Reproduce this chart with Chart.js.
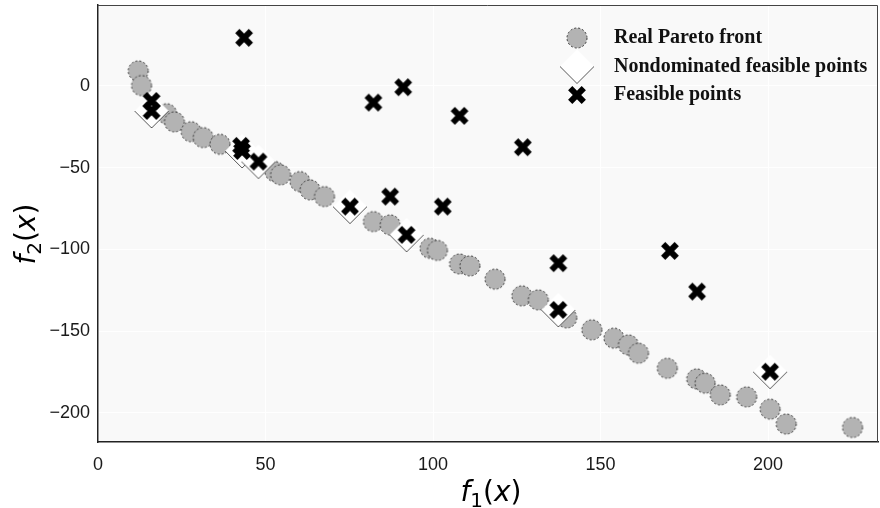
<!DOCTYPE html>
<html>
<head>
<meta charset="utf-8">
<script src="https://cdn.jsdelivr.net/npm/chart.js@4"></script>
<style>
  html, body { margin: 0; padding: 0; background: #fff; }
</style>
</head>
<body>
<canvas id="paretoChart" width="880" height="508"></canvas>
<script>
// real Pareto front (grey circles)
const frontX = [12.0, 13.0, 20.5, 22.8, 27.8, 31.4, 36.4, 52.8, 54.5, 60.3, 63.3, 67.6, 82.2, 87.2, 99.1, 101.3, 107.9, 111.0, 118.5, 126.5, 131.4, 139.9, 147.4, 154.0, 158.3, 161.3, 169.9, 178.7, 181.2, 185.7, 193.6, 200.6, 205.4, 225.2];
const frontY = [9.2, 0.2, -17.0, -22.0, -28.0, -31.6, -35.7, -52.4, -54.4, -58.5, -63.6, -67.7, -83.0, -85.0, -99.3, -100.6, -108.9, -110.1, -118.2, -128.4, -130.9, -141.9, -149.2, -154.3, -158.4, -163.5, -172.7, -179.2, -181.8, -189.0, -190.2, -197.7, -206.8, -208.9];

// nondominated feasible points (white diamonds)
const ndX = [16.0, 43.0, 47.9, 75.2, 92.1, 137.4, 200.6];
const ndY = [-15.3, -39.8, -46.3, -73.8, -91.1, -137.0, -174.8];

// all feasible points (black crosses)
const feasX = [43.6, 16.0, 16.0, 42.7, 43.0, 47.9, 75.2, 82.2, 91.1, 87.2, 92.1, 102.9, 107.9, 126.8, 137.4, 137.4, 170.7, 178.8, 200.6];
const feasY = [29.4, -9.2, -15.3, -36.7, -39.8, -46.3, -73.8, -10.2, -0.8, -67.7, -91.1, -73.8, -18.3, -37.5, -108.4, -137.0, -100.9, -125.8, -174.8];

const xTicks = [0, 50, 100, 150, 200];
const yTicks = [0, -50, -100, -150, -200];
const legendLabels = ["Real Pareto front", "Nondominated feasible points", "Feasible points"];

function toPoints(xs, ys) {
  return xs.map((x, i) => ({ x: x, y: ys[i] }));
}

// marker images
function makeCircle() {
  const c = document.createElement('canvas');
  c.width = 24; c.height = 24;
  const ctx = c.getContext('2d');
  ctx.beginPath();
  ctx.arc(12, 12, 10, 0, Math.PI * 2);
  ctx.fillStyle = '#b3b3b3';
  ctx.fill();
  ctx.setLineDash([2, 2]);
  ctx.strokeStyle = '#333';
  ctx.lineWidth = 1;
  ctx.stroke();
  return c;
}

function makeDiamond() {
  const c = document.createElement('canvas');
  c.width = 38; c.height = 38;
  const ctx = c.getContext('2d');
  ctx.beginPath();
  ctx.moveTo(19, 2); ctx.lineTo(36, 19); ctx.lineTo(19, 36); ctx.lineTo(2, 19);
  ctx.closePath();
  ctx.fillStyle = '#fff';
  ctx.fill();
  ctx.beginPath();
  ctx.moveTo(2, 19); ctx.lineTo(19, 36); ctx.lineTo(36, 19);
  ctx.strokeStyle = '#444';
  ctx.lineWidth = 0.9;
  ctx.stroke();
  return c;
}

function makeCross() {
  const c = document.createElement('canvas');
  c.width = 20; c.height = 20;
  const ctx = c.getContext('2d');
  ctx.strokeStyle = '#000';
  ctx.lineWidth = 6;
  ctx.beginPath();
  ctx.moveTo(3.2, 3.2); ctx.lineTo(16.8, 16.8);
  ctx.moveTo(16.8, 3.2); ctx.lineTo(3.2, 16.8);
  ctx.stroke();
  return c;
}

const circleImg = makeCircle();
const diamondImg = makeDiamond();
const crossImg = makeCross();

// f_n(x) label with italic f and x, subscript n
function drawMathLabel(ctx, sub, size) {
  const parts = [
    { t: 'f', font: 'italic ' + size + 'px "DejaVu Sans"', dy: 0 },
    { t: sub, font: Math.round(size * 0.7) + 'px "DejaVu Sans"', dy: size * 0.22 },
    { t: '(', font: size + 'px "DejaVu Sans"', dy: 0 },
    { t: 'x', font: 'italic ' + size + 'px "DejaVu Sans"', dy: 0 },
    { t: ')', font: size + 'px "DejaVu Sans"', dy: 0 }
  ];
  let total = 0;
  parts.forEach(p => { ctx.font = p.font; p.w = ctx.measureText(p.t).width; total += p.w; });
  let x = -total / 2;
  ctx.fillStyle = '#000';
  ctx.textBaseline = 'alphabetic';
  ctx.textAlign = 'left';
  parts.forEach(p => { ctx.font = p.font; ctx.fillText(p.t, x, p.dy); x += p.w; });
}

const decorPlugin = {
  id: 'decor',
  beforeDraw(chart) {
    const { ctx, chartArea: a } = chart;
    ctx.save();
    ctx.fillStyle = '#fff';
    ctx.fillRect(0, 0, chart.width, chart.height);
    ctx.fillStyle = '#f9f9f9';
    ctx.fillRect(a.left, a.top, a.right - a.left, a.bottom - a.top);
    ctx.restore();
  },
  afterDraw(chart) {
    const { ctx, chartArea: a } = chart;
    ctx.save();
    ctx.strokeStyle = '#444';
    ctx.lineWidth = 1;
    ctx.beginPath();
    ctx.moveTo(a.left, a.top + 0.5); ctx.lineTo(a.right - 0.5, a.top + 0.5); ctx.lineTo(a.right - 0.5, a.bottom);
    ctx.stroke();

    // legend
    const imgs = [circleImg, diamondImg, crossImg];
    const rows = [38, 66.5, 95];
    ctx.font = 'bold 20px "Liberation Serif"';
    ctx.fillStyle = '#111';
    ctx.textBaseline = 'middle';
    ctx.textAlign = 'left';
    legendLabels.forEach((lab, i) => {
      const im = imgs[i];
      ctx.drawImage(im, 577 - im.width / 2, rows[i] - im.height / 2);
      ctx.fillText(lab, 614, rows[i]);
    });

    // axis titles
    ctx.save();
    ctx.translate(491, 501);
    drawMathLabel(ctx, '1', 28);
    ctx.restore();
    ctx.save();
    ctx.translate(35, 234);
    ctx.rotate(-Math.PI / 2);
    drawMathLabel(ctx, '2', 28);
    ctx.restore();
    ctx.restore();
  }
};

const tickFont = { family: '"Liberation Sans", Arial, sans-serif', size: 18 };
const fmt = v => (v < 0 ? '\u2212' + Math.abs(v) : String(v));

new Chart(document.getElementById('paretoChart').getContext('2d'), {
  type: 'scatter',
  data: {
    datasets: [
      {
        label: legendLabels[2],
        data: toPoints(feasX, feasY),
        pointStyle: crossImg,
        pointRadius: 9,
        order: 0
      },
      {
        label: legendLabels[1],
        data: toPoints(ndX, ndY),
        pointStyle: diamondImg,
        pointRadius: 17,
        order: 1
      },
      {
        label: legendLabels[0],
        data: toPoints(frontX, frontY),
        pointStyle: circleImg,
        pointRadius: 10,
        order: 2
      }
    ]
  },
  options: {
    responsive: false,
    animation: false,
    events: [],
    layout: { autoPadding: false, padding: { top: 5, right: 2, left: 0, bottom: 0 } },
    plugins: {
      legend: { display: false },
      tooltip: { enabled: false }
    },
    scales: {
      x: {
        type: 'linear',
        min: 0,
        max: 232.8,
        afterBuildTicks: s => { s.ticks = xTicks.map(v => ({ value: v })); },
        afterFit: s => { s.height = 66; s.paddingLeft = 0; s.paddingRight = 0; },
        grid: { color: '#ffffff', lineWidth: 1, drawTicks: false },
        border: { color: '#222', width: 1.5 },
        ticks: { font: tickFont, color: '#1a1a1a', padding: 12, maxRotation: 0, callback: fmt }
      },
      y: {
        type: 'linear',
        min: -217.8,
        max: 49.5,
        afterBuildTicks: s => { s.ticks = yTicks.map(v => ({ value: v })); },
        afterFit: s => { s.width = 98; s.paddingTop = 0; s.paddingBottom = 0; },
        grid: { color: '#ffffff', lineWidth: 1, drawTicks: false },
        border: { color: '#222', width: 1.5 },
        ticks: { font: tickFont, color: '#1a1a1a', padding: 8, callback: fmt }
      }
    }
  },
  plugins: [decorPlugin]
});
</script>
</body>
</html>
